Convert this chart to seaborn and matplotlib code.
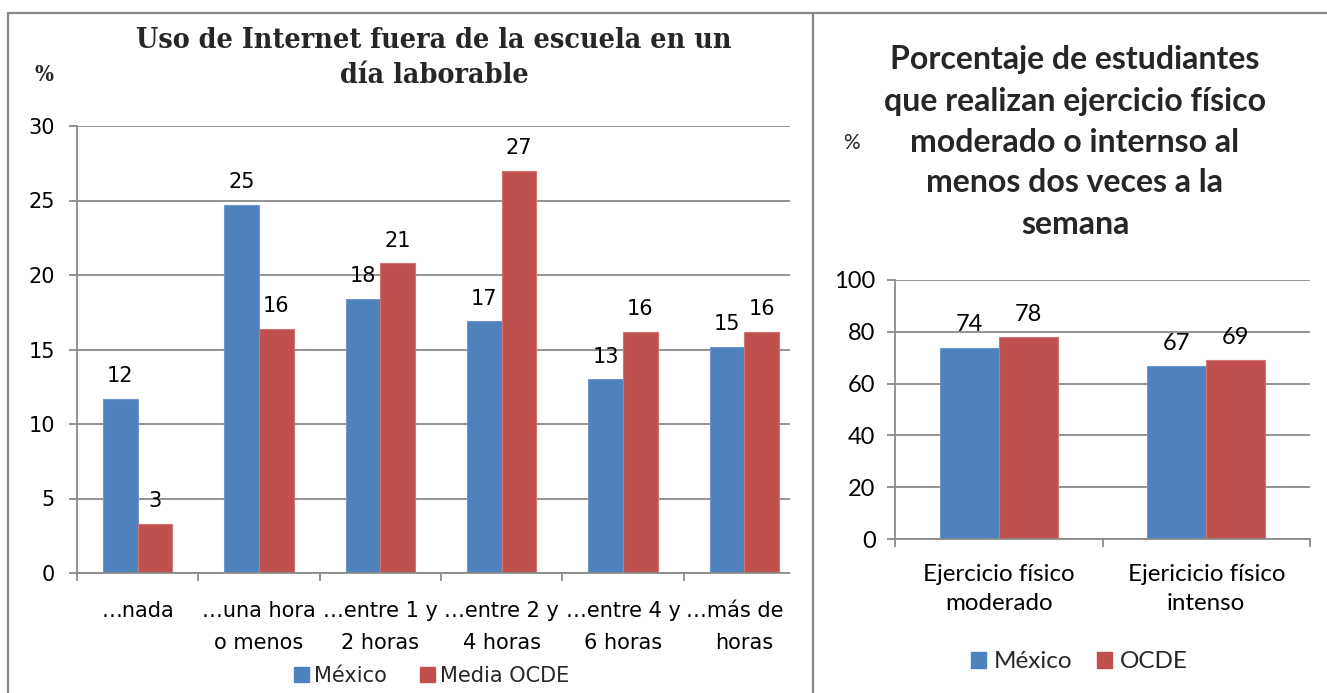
import matplotlib
matplotlib.use("Agg")
import matplotlib.pyplot as plt
from matplotlib import font_manager
from matplotlib.patches import Patch, Rectangle
from matplotlib.lines import Line2D
import seaborn as sns
import pandas as pd
import numpy as np

# ---------------- data ----------------
cats_left = ["…nada", "…una hora\no menos", "…entre 1 y\n2 horas", "…entre 2 y\n4 horas",
             "…entre 4 y\n6 horas", "…más de 6\nhoras"]
mexico_left = [11.7, 24.7, 18.4, 16.9, 13.0, 15.2]
ocde_left = [3.3, 16.4, 20.8, 27.0, 16.2, 16.2]
series_left = ["México", "Media OCDE"]
yticks_left = [0, 5, 10, 15, 20, 25, 30]

cats_right = ["Ejercicio físico\nmoderado", "Ejericicio físico\nintenso"]
mexico_right = [73.8, 66.7]
ocde_right = [77.8, 69.0]
series_right = ["México", "OCDE"]
yticks_right = [0, 20, 40, 60, 80, 100]

title_left = "Uso de Internet fuera de la escuela en un\ndía laborable"
title_right = "Porcentaje de estudiantes\nque realizan ejercicio físico\nmoderado o internso al\nmenos dos veces a la\nsemana"

BLUE = "#4F81BD"
RED = "#C0504D"
GRID = "#8A8A8A"

sns.set_theme(style="white")

available = {f.name for f in font_manager.fontManager.ttflist}
def pick(*names):
    for n in names:
        if n in available:
            return n
    return "DejaVu Sans"

NARROW = pick("Liberation Sans Narrow", "DejaVu Sans")
SERIF = pick("DejaVu Serif")
CAL = pick("Lato", "Open Sans", "DejaVu Sans")
plt.rcParams["font.family"] = [CAL, "DejaVu Sans"]

W, H = 1327, 693
fig = plt.figure(figsize=(W / 100, H / 100), dpi=100)

def ax_px(x0, x1, ytop, ybot):
    return fig.add_axes([x0 / W, (H - ybot) / H, (x1 - x0) / W, (ybot - ytop) / H])

def style_axes(ax, ncat, yticks, fontfam, fsize, xpad, ypad):
    ax.set_ylim(yticks[0], yticks[-1])
    ax.set_xlim(-0.5, ncat - 0.5)
    ax.set_yticks(yticks)
    ax.yaxis.grid(True, color=GRID, linewidth=1.3)
    ax.xaxis.grid(False)
    ax.set_axisbelow(True)
    for s in ["top", "right"]:
        ax.spines[s].set_visible(False)
    for s in ["left", "bottom"]:
        ax.spines[s].set_visible(True)
        ax.spines[s].set_color(GRID)
        ax.spines[s].set_linewidth(1.3)
    ax.set_xticks(np.arange(-0.5, ncat, 1.0), minor=True)
    ax.tick_params(axis="x", which="major", length=0, pad=xpad)
    ax.tick_params(axis="x", which="minor", length=6, color=GRID, width=1.3, direction="out", bottom=True)
    ax.tick_params(axis="y", which="major", length=6, color=GRID, width=1.3, direction="out", left=True, pad=ypad)
    ax.set_xlabel("")
    ax.set_ylabel("")
    for lab in ax.get_yticklabels():
        lab.set_fontfamily(fontfam)
        lab.set_fontsize(fsize)
        lab.set_color("black")

# ---------------- left chart ----------------
df_left = pd.DataFrame({
    "cat": cats_left * 2,
    "val": mexico_left + ocde_left,
    "serie": [series_left[0]] * len(cats_left) + [series_left[1]] * len(cats_left),
})
axL = ax_px(77, 805, 126, 573)
sns.barplot(data=df_left, x="cat", y="val", hue="serie", palette=[BLUE, RED],
            width=0.57, saturation=1, ax=axL, legend=False, errorbar=None, zorder=2)
for cont, col in zip(axL.containers, ["#6F97C9", "#D07573"]):
    for p in cont:
        p.set_edgecolor(col)
        p.set_linewidth(0.8)
    axL.bar_label(cont, fmt="%.0f", padding=9, fontsize=15, fontfamily=NARROW, color="black")
style_axes(axL, len(cats_left), yticks_left, NARROW, 15, xpad=20, ypad=10)
axL.set_xticks(range(len(cats_left)))
axL.set_xticklabels(cats_left, fontfamily=NARROW, fontsize=15, linespacing=1.75, color="black")

fig.text(434 / W, 1 - 58 / H, title_left, ha="center", va="center", fontsize=20.5,
         fontweight="bold", family=SERIF, fontstretch="condensed", linespacing=1.42)
fig.text(44 / W, 1 - 75 / H, "%", ha="center", va="center", fontsize=16, fontweight="bold",
         family=SERIF, fontstretch="condensed")

handlesL = [Patch(facecolor=BLUE, edgecolor=BLUE), Patch(facecolor=RED, edgecolor=RED)]
fig.legend(handlesL, series_left, loc="center", bbox_to_anchor=(432 / W, 1 - 676 / H), ncol=2,
           frameon=False, handlelength=0.7, handleheight=0.7, handletextpad=0.25,
           columnspacing=1.6, prop={"family": NARROW, "size": 15})

# clip the left chart at its container edge
fig.patches.append(Rectangle((790 / W, 0), (813 - 790) / W, 1, transform=fig.transFigure,
                             facecolor="white", edgecolor="none", zorder=50))

# ---------------- right chart ----------------
df_right = pd.DataFrame({
    "cat": cats_right * 2,
    "val": mexico_right + ocde_right,
    "serie": [series_right[0]] * len(cats_right) + [series_right[1]] * len(cats_right),
})
axR = ax_px(895, 1310, 280, 539)
sns.barplot(data=df_right, x="cat", y="val", hue="serie", palette=[BLUE, RED],
            width=0.57, saturation=1, ax=axR, legend=False, errorbar=None, zorder=2)
for cont, col in zip(axR.containers, ["#6F97C9", "#D07573"]):
    for p in cont:
        p.set_edgecolor(col)
        p.set_linewidth(0.8)
    axR.bar_label(cont, fmt="%.0f", padding=9, fontsize=17, fontfamily=CAL, color="black")
style_axes(axR, len(cats_right), yticks_right, CAL, 17, xpad=18, ypad=8)
axR.set_xticks(range(len(cats_right)))
axR.set_xticklabels(cats_right, fontfamily=CAL, fontsize=17.4, linespacing=1.45, color="black")

fig.text(1075 / W, 1 - 142 / H, title_right, ha="center", va="center", fontsize=23,
         fontweight="bold", family=CAL, linespacing=1.5)
fig.text(851 / W, 1 - 143 / H, "%", ha="center", va="center", fontsize=15, family=CAL)

handlesR = [Patch(facecolor=BLUE, edgecolor=BLUE), Patch(facecolor=RED, edgecolor=RED)]
fig.legend(handlesR, series_right, loc="center", bbox_to_anchor=(1079 / W, 1 - 662 / H), ncol=2,
           frameon=False, handlelength=0.65, handleheight=0.65, handletextpad=0.3,
           columnspacing=1.0, prop={"family": CAL, "size": 17.5})

# ---------------- panel borders ----------------
BORDER = "#878787"
for xs, ys in [([8, 8], [693, 13]), ([8, 1327], [13, 13]), ([813, 813], [13, 693])]:
    fig.add_artist(Line2D([x / W for x in xs], [1 - y / H for y in ys], transform=fig.transFigure,
                          color=BORDER, linewidth=1.6, zorder=60))

fig.savefig("out.png", dpi=100)
